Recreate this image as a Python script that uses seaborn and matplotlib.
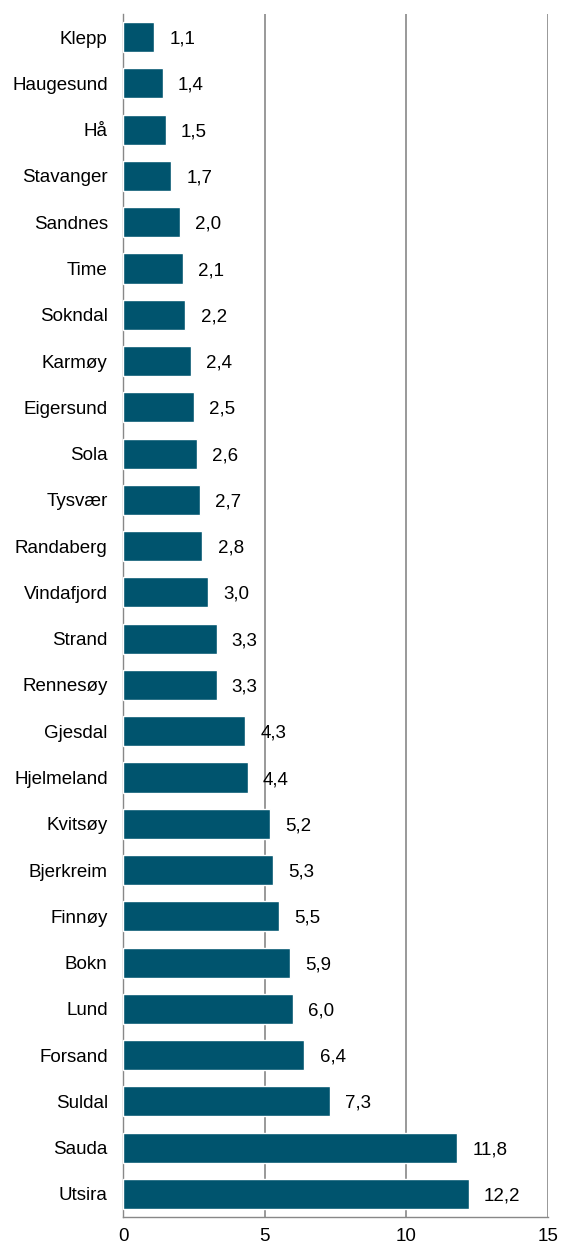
import numpy as np
import pandas as pd
import matplotlib
matplotlib.use('Agg')
import matplotlib.pyplot as plt
from matplotlib.ticker import FixedLocator
import seaborn as sns

# data
kommuner = ['Klepp', 'Haugesund', 'Hå', 'Stavanger', 'Sandnes', 'Time', 'Sokndal',
            'Karmøy', 'Eigersund', 'Sola', 'Tysvær', 'Randaberg', 'Vindafjord',
            'Strand', 'Rennesøy', 'Gjesdal', 'Hjelmeland', 'Kvitsøy', 'Bjerkreim',
            'Finnøy', 'Bokn', 'Lund', 'Forsand', 'Suldal', 'Sauda', 'Utsira']
verdier = [1.1, 1.4, 1.5, 1.7, 2.0, 2.1, 2.2, 2.4, 2.5, 2.6, 2.7, 2.8, 3.0,
           3.3, 3.3, 4.3, 4.4, 5.2, 5.3, 5.5, 5.9, 6.0, 6.4, 7.3, 11.8, 12.2]
x_ticks = [0, 5, 10, 15]

df = pd.DataFrame({'kommune': kommuner, 'verdi': verdier})

sns.set_style('white')
plt.rcParams['font.family'] = ['Liberation Sans', 'DejaVu Sans']
fs = 13.5

fig = plt.figure(figsize=(5.61, 12.48), dpi=100)
ax = fig.add_axes([0.2193, 0.0248, 0.9768 - 0.2193, 0.9888 - 0.0248])

sns.barplot(data=df, x='verdi', y='kommune', orient='h', color='#00546E',
            saturation=1, width=0.65, ax=ax, zorder=3)

# value labels with comma decimal
for i, v in enumerate(verdier):
    ax.annotate(f'{v:.1f}'.replace('.', ','), xy=(v, i), xytext=(11, -1.5),
                textcoords='offset points', va='center', ha='left',
                fontsize=fs, color='black')

ax.set_xlim(0, 15)
ax.set_ylim(len(kommuner) - 0.5, -0.5)
ax.set_xticks(x_ticks)
ax.set_xticklabels([str(t) for t in x_ticks], fontsize=fs)
ax.set_xlabel('')
ax.set_ylabel('')
ax.tick_params(axis='y', labelsize=fs, labelcolor='black', length=0, pad=11)
ax.tick_params(axis='x', labelcolor='black', length=5, width=1, color='#888888',
               direction='out', pad=3)
ax.yaxis.set_minor_locator(FixedLocator(np.arange(-0.5, len(kommuner), 1)))
ax.tick_params(axis='y', which='minor', length=5, width=1, color='#888888', direction='out')

for t in x_ticks[1:]:
    ax.axvline(t, color='#888888', lw=1.2, zorder=1)

for s in ['top', 'right']:
    ax.spines[s].set_visible(False)
for s in ['left', 'bottom']:
    ax.spines[s].set_color('#888888')
    ax.spines[s].set_linewidth(1)

plt.savefig('out.png', dpi=100)
